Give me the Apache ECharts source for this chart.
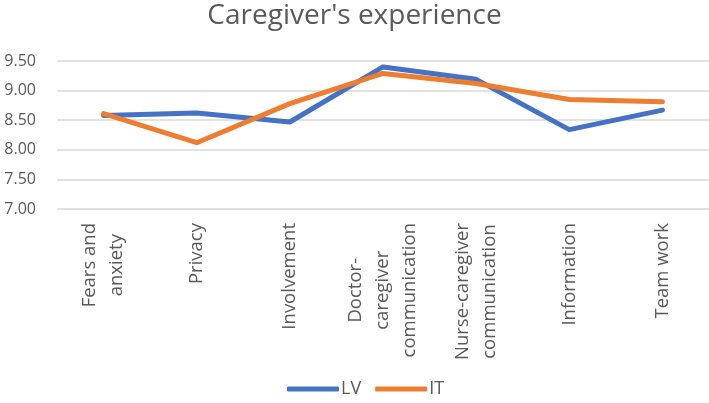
<!DOCTYPE html>
<html><head><meta charset="utf-8">
<script src="https://cdn.jsdelivr.net/npm/echarts@6/dist/echarts.min.js"></script>
<style>html,body{margin:0;padding:0;background:#fff}#c{width:709px;height:403px}</style>
</head><body><div id="c"></div>
<script>
const categories = ["Fears and\nanxiety","Privacy","Involvement","Doctor-\ncaregiver\ncommunication","Nurse-caregiver\ncommunication","Information","Team work"];
const lvValues = [8.58, 8.62, 8.47, 9.40, 9.19, 8.34, 8.67];
const itValues = [8.61, 8.12, 8.78, 9.29, 9.12, 8.85, 8.81];
const yTicks = [7.00, 7.50, 8.00, 8.50, 9.00, 9.50];
const font = "'Open Sans', 'Noto Sans', sans-serif";
const txt = '#595959';
const chart = echarts.init(document.getElementById('c'));
chart.setOption({
  animation:false,
  title:{text:"Caregiver's experience",left:'center',top:-3,textStyle:{fontFamily:font,fontSize:28,fontWeight:'normal',color:txt}},
  grid:{left:57,right:0,top:61,bottom:194},
  legend:{bottom:0,left:282,itemWidth:52,itemHeight:5,itemGap:14,icon:'roundRect',
    textStyle:{fontFamily:font,fontSize:18,color:txt,padding:[0,0,0,-3]},
    data:['LV','IT']},
  xAxis:{type:'category',data:categories,boundaryGap:true,
    axisLine:{show:false},axisTick:{show:false},
    axisLabel:{rotate:90,interval:0,margin:14,color:txt,
      formatter:v=>v.split('\n').map(s=>'{c|'+s+'}').join('\n'),
      rich:{c:{align:'center',fontFamily:font,fontSize:18.5,lineHeight:27,color:txt}}}},
  yAxis:{type:'value',min:yTicks[0],max:yTicks[yTicks.length-1],interval:yTicks[1]-yTicks[0],
    axisLine:{show:false},axisTick:{show:false},
    splitLine:{lineStyle:{color:'#d9d9d9',width:1.5}},
    axisLabel:{formatter:v=>v.toFixed(2),fontFamily:font,fontSize:16,color:txt,margin:21}},
  series:[
    {name:'LV',type:'line',data:lvValues,symbol:'none',lineStyle:{width:5,color:'#4472C4',cap:'round',join:'round'},itemStyle:{color:'#4472C4'}},
    {name:'IT',type:'line',data:itValues,symbol:'none',lineStyle:{width:5,color:'#ED7D31',cap:'round',join:'round'},itemStyle:{color:'#ED7D31'}}
  ]
});
</script></body></html>
